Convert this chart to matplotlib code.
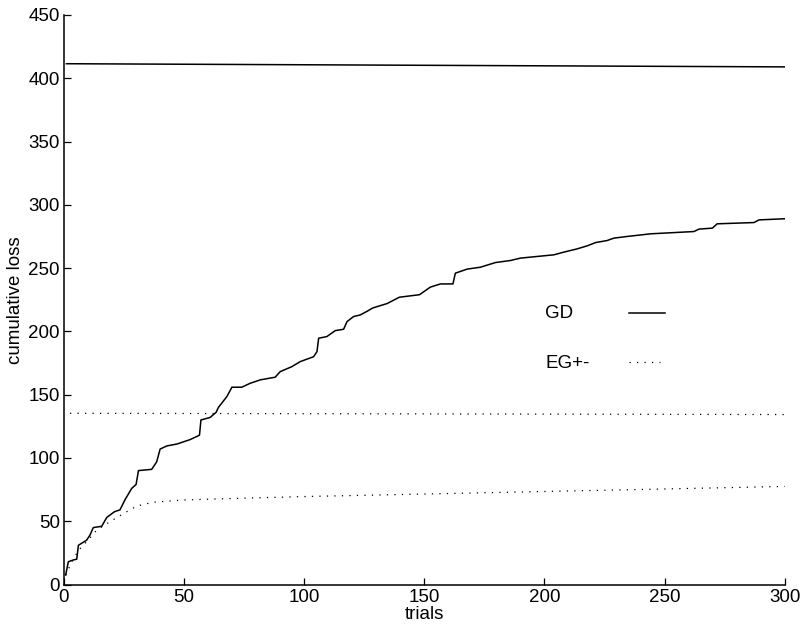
import numpy as np
import matplotlib.pyplot as plt

plt.rcParams['font.family'] = ['Liberation Sans', 'DejaVu Sans']
plt.rcParams['font.size'] = 13.5

# GD cumulative loss per trial
gd_x = [0.7, 1.8, 3.9, 5.3, 6.0, 9.4, 10.8, 12.2, 15.7, 17.8, 21.0, 23.3, 25.4, 28.2, 30.0,
        31.0, 36.5, 38.6, 40.0, 42.8, 47.0, 52.5, 56.4, 57.0, 60.8, 63.3, 64.3, 67.8, 69.9,
        74.0, 77.5, 81.7, 87.9, 90.0, 94.9, 98.3, 103.9, 105.3, 106.0, 109.4, 112.9, 116.4,
        117.8, 120.5, 123.3, 126.0, 128.5, 134.5, 139.6, 148.0, 152.5, 156.7, 161.9, 162.9,
        167.8, 173.3, 179.6, 185.8, 190.0, 203.9, 208.0, 213.6, 217.8, 221.3, 226.1, 228.9,
        234.4, 244.2, 262.2, 264.3, 269.9, 271.9, 287.2, 289.3, 300.0]
gd_y = [7.5, 18.0, 19.4, 20.0, 31.0, 35.0, 39.0, 45.0, 46.0, 53.0, 57.5, 59.0, 67.0, 76.0, 79.0,
        90.0, 91.0, 97.0, 107.0, 109.5, 111.0, 114.5, 118.0, 130.0, 132.0, 136.0, 140.0, 148.5, 155.9,
        155.9, 159.0, 161.7, 163.8, 168.2, 172.2, 176.1, 180.0, 184.0, 194.6, 195.9, 200.6, 201.7,
        207.7, 211.7, 213.0, 215.7, 218.5, 222.0, 227.0, 229.0, 235.0, 237.5, 237.5, 246.0,
        249.2, 250.7, 254.4, 256.0, 257.9, 260.5, 262.6, 265.2, 267.6, 270.2, 271.8, 273.7,
        275.0, 277.1, 278.9, 280.8, 281.6, 285.0, 286.0, 288.1, 289.0]

# EG+- cumulative loss
eg_x = [0.7, 3.0, 6.0, 10.0, 13.6, 19.0, 24.7, 30.3, 37.0, 49.7, 70.5, 100.0, 150.0, 200.0, 250.0, 300.0]
eg_y = [7.5, 17.0, 27.0, 35.0, 43.0, 49.5, 56.0, 62.0, 65.0, 66.8, 68.0, 69.5, 71.5, 73.5, 75.5, 77.5]

# flat reference levels
gd_flat_x = [1.0, 300.0]
gd_flat_y = [411.5, 409.0]
eg_flat_x = [2.5, 300.0]
eg_flat_y = [135.3, 134.3]

dots = (0, (1, 5))

fig = plt.figure(figsize=(8.04, 6.30), dpi=100)
ax = fig.add_axes([0.0796, 0.0722, 0.8964, 0.904])

ax.plot(gd_x, gd_y, color='black', lw=1.1)
ax.plot(gd_flat_x, gd_flat_y, color='black', lw=1.1)
ax.plot(eg_x, eg_y, color='black', lw=0.9, linestyle=dots)
ax.plot(eg_flat_x, eg_flat_y, color='black', lw=0.9, linestyle=dots)

# hand-made legend inside the axes
ax.text(200.4, 214.4, 'GD', va='center', ha='left')
ax.plot([235, 250], [214.4, 214.4], color='black', lw=1.1)
ax.text(200.4, 174.3, 'EG+-', va='center', ha='left')
ax.plot([235, 248], [175.5, 175.5], color='black', lw=0.9, linestyle=dots)

ax.set_xlim(0, 300)
ax.set_ylim(0, 450)
ax.set_xticks(np.arange(0, 301, 50))
ax.set_yticks(np.arange(0, 451, 50))
ax.tick_params(direction='in', length=5, width=0.9, pad=3)
for s in ['left', 'bottom']:
    ax.spines[s].set_linewidth(1.1)
ax.spines['top'].set_visible(False)
ax.spines['right'].set_visible(False)
ax.set_xlabel('trials', labelpad=0)
ax.set_ylabel('cumulative loss', labelpad=3)

plt.savefig('out.png')
